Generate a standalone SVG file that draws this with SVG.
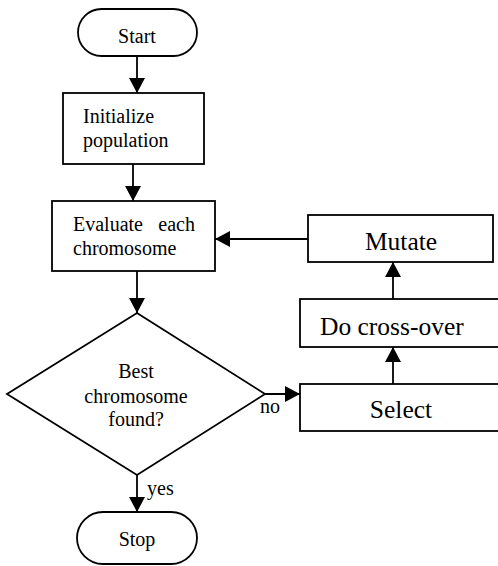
<svg xmlns="http://www.w3.org/2000/svg" width="498" height="566" viewBox="0 0 498 566">
<style>
.shape{fill:#fff;stroke:#000;stroke-width:1.8}
.conn{fill:none;stroke:#000;stroke-width:1.8;marker-end:url(#arr)}
text{font-family:"Liberation Serif","Times New Roman",serif;fill:#000;font-size:20px}
.big{font-size:25.5px}
.c{text-anchor:middle}
</style>
<defs>
<marker id="arr" markerUnits="userSpaceOnUse" markerWidth="16" markerHeight="16" refX="15" refY="8" orient="auto" viewBox="0 0 16 16">
<path d="M0,0 L15,8 L0,16 z" fill="#000"/>
</marker>
</defs>
<rect width="498" height="566" fill="#fff"/>
<g id="connectors">
<line class="conn" x1="137" y1="56" x2="137" y2="93"/>
<line class="conn" x1="133" y1="164" x2="133" y2="201"/>
<line class="conn" x1="137" y1="271" x2="137" y2="313"/>
<line class="conn" x1="265" y1="394" x2="300" y2="394"/>
<line class="conn" x1="393" y1="384" x2="393" y2="347"/>
<line class="conn" x1="393" y1="299" x2="393" y2="262"/>
<line class="conn" x1="308" y1="239" x2="215" y2="239"/>
<line class="conn" x1="137" y1="475" x2="137" y2="512"/>
<text x="260" y="413">no</text>
<text x="147" y="495">yes</text>
</g>
<g id="start">
<rect class="shape" x="78" y="9" width="119" height="47" rx="23.5"/>
<text class="c" x="137" y="43">Start</text>
</g>
<g id="init">
<rect class="shape" x="63" y="93" width="141" height="71"/>
<text x="83" y="123">Initialize</text>
<text x="83" y="147">population</text>
</g>
<g id="evaluate">
<rect class="shape" x="52" y="201" width="163" height="70"/>
<text x="73" y="231">Evaluate</text>
<text x="195" y="231" text-anchor="end">each</text>
<text x="73" y="255">chromosome</text>
</g>
<g id="decision">
<polygon class="shape" points="137,313 265,394 137,475 7,394"/>
<text class="c" x="136" y="378">Best</text>
<text class="c" x="136" y="403">chromosome</text>
<text class="c" x="136" y="426">found?</text>
</g>
<g id="mutate">
<rect class="shape" x="308" y="215" width="185" height="47"/>
<text class="big c" x="401" y="250">Mutate</text>
</g>
<g id="crossover">
<rect class="shape" x="300" y="299" width="210" height="48"/>
<text class="big" x="320" y="335">Do cross-over</text>
</g>
<g id="select">
<rect class="shape" x="300" y="384" width="210" height="47"/>
<text class="big c" x="401" y="418">Select</text>
</g>
<g id="stop">
<rect class="shape" x="77" y="512" width="120" height="52" rx="26"/>
<text class="c" x="137" y="546">Stop</text>
</g>
</svg>
